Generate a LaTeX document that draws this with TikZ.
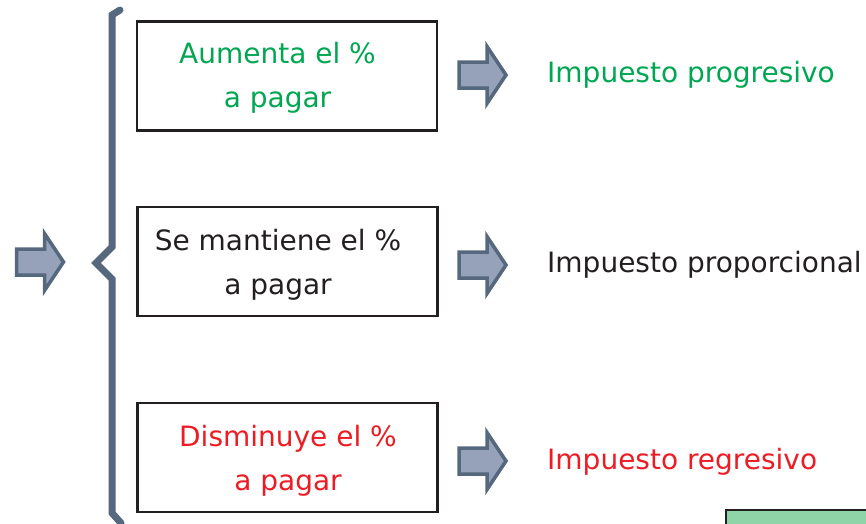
\documentclass[tikz,border=0pt]{standalone}
\usepackage{fontspec}
\setmainfont{DejaVu Sans}
\definecolor{boxline}{HTML}{231F20}
\definecolor{arrfill}{HTML}{95A2BA}
\definecolor{arrline}{HTML}{56687E}
\definecolor{tgreen}{HTML}{00A651}
\definecolor{tred}{HTML}{ED1C24}
\definecolor{tblack}{HTML}{231F20}
\definecolor{gfill}{HTML}{8FD4A9}
\begin{document}
\begin{tikzpicture}[x=1pt,y=-1pt,
  txt/.style={font=\fontsize{28}{44}\selectfont, inner sep=0pt},
  optbox/.style={draw=boxline, line width=2.5pt, minimum width=300pt, minimum height=109pt, inner sep=0pt},
  boxtxt/.style={txt, align=center},
  barrow/.pic={\draw[draw=arrline, fill=arrfill, line width=3.5pt, line join=miter]
     (-23.5,-13) -- (4.5,-13) -- (4.5,-28.5) -- (23.5,0) -- (4.5,28.5) -- (4.5,13) -- (-23.5,13) -- cycle;}
]
\useasboundingbox (0,0) rectangle (866,523);
\clip (0,0) rectangle (866,523);

% input arrow
\pic at (40,262) {barrow};

% brace
\draw[arrline, line width=7pt, line cap=round, line join=miter]
  (120,10) -- (112,15) -- (112,247) -- (96,263) -- (112,279) -- (112,513) -- (121,523);

% boxes
\node[optbox] (b1) at (287,76) {};
\node[optbox] (b2) at (287.5,261.5) {};
\node[optbox] (b3) at (287.5,457.5) {};

\node[boxtxt, text=tgreen] (t1) at (277.5,78) {Aumenta el \%\\ a pagar};
\node[boxtxt, text=tblack] (t2) at (278,265) {Se mantiene el \%\\ a pagar};
\node[boxtxt, text=tred] (t3) at (288,461) {Disminuye el \%\\ a pagar};

% arrows
\pic at (482.5,75) {barrow};
\pic at (482.5,265) {barrow};
\pic at (482.5,461) {barrow};

% results
\node[txt, anchor=west, text=tgreen] (r1) at (547,75) {Impuesto progresivo};
\node[txt, anchor=west, text=tblack] (r2) at (547,265) {Impuesto proporcional};
\node[txt, anchor=west, text=tred] (r3) at (547,462) {Impuesto regresivo};

% partial green box at bottom right
\draw[draw=boxline, fill=gfill, line width=2.5pt] (726,510) rectangle (880,540);
\end{tikzpicture}
\end{document}
